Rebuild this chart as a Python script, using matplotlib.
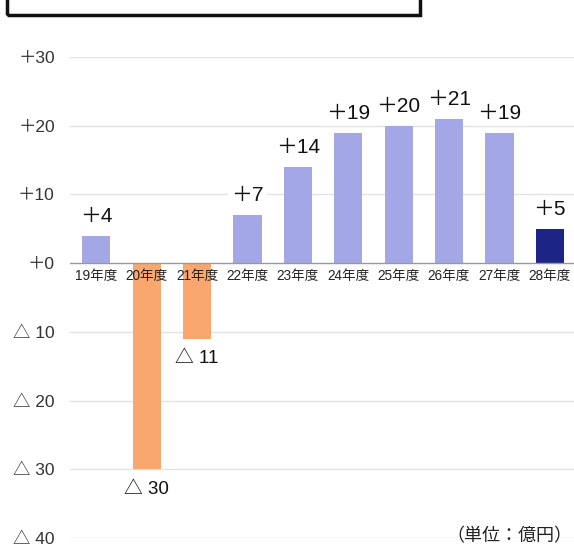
import matplotlib.pyplot as plt
from matplotlib.patches import Rectangle

plt.rcParams['font.family'] = ['Liberation Sans', 'Noto Sans CJK JP', 'DejaVu Sans']

# 年度別の収支（億円）
years = ['19年度', '20年度', '21年度', '22年度', '23年度',
         '24年度', '25年度', '26年度', '27年度', '28年度']
values = [4, -30, -11, 7, 14, 19, 20, 21, 19, 5]
yticks = [30, 20, 10, 0, -10, -20, -30, -40]


def fmt(v):
    # 正の値は「＋」、負の値は「△」で表す
    return '＋%d' % v if v >= 0 else '△ %d' % -v


colors = []
for i, v in enumerate(values):
    if i == len(values) - 1:
        colors.append('#1c2585')
    elif v < 0:
        colors.append('#f9a66f')
    else:
        colors.append('#a4a7e6')

fig = plt.figure(figsize=(5.74, 5.48), dpi=100)
ax = fig.add_axes([0.122, 0.018, 0.878, 0.878])

x = list(range(len(years)))
ax.bar(x, values, width=0.56, color=colors, zorder=2)

ax.set_ylim(-40, 30)
ax.set_xlim(-0.52, 9.48)
ax.set_yticks(yticks)
ax.set_yticklabels([fmt(t) for t in yticks], fontsize=12.5, color='#333333')
ax.set_xticks([])
ax.tick_params(axis='y', length=0, pad=11)

for t in yticks:
    if t == 0:
        ax.axhline(t, color='#999999', lw=1.0, zorder=3)
    else:
        ax.axhline(t, color='#e3e3e3', lw=1.0, zorder=1)

for s in ax.spines.values():
    s.set_visible(False)

# 年度ラベルはゼロ線の直下に置く
for xi, name in zip(x, years):
    ax.annotate(name, (xi, 0), xytext=(0, -4), textcoords='offset points',
                ha='center', va='top', fontsize=9.8, color='#222222')

# 値ラベル
for xi, v in zip(x, values):
    if v >= 0:
        ax.annotate(fmt(v), (xi, v), xytext=(0, 7), textcoords='offset points',
                    ha='center', va='bottom', fontsize=15, color='#111111',
                    bbox=dict(boxstyle='square,pad=0.15', fc='white', ec='none'),
                    zorder=4)
    else:
        ax.annotate(fmt(v), (xi, v), xytext=(0, -8),
                    textcoords='offset points', ha='center', va='top',
                    fontsize=13.5, color='#111111',
                    bbox=dict(boxstyle='square,pad=0.15', fc='white', ec='none'),
                    zorder=4)

fig.text(0.997, 0.02, '（単位：億円）', ha='right', va='center',
         fontsize=13, color='#222222')

# 上部の枠
fig.patches.append(Rectangle((0.012, 0.972), 0.72, 0.06, transform=fig.transFigure,
                             fill=False, ec='#111111', lw=2.5))

fig.savefig('out.png', dpi=100)
